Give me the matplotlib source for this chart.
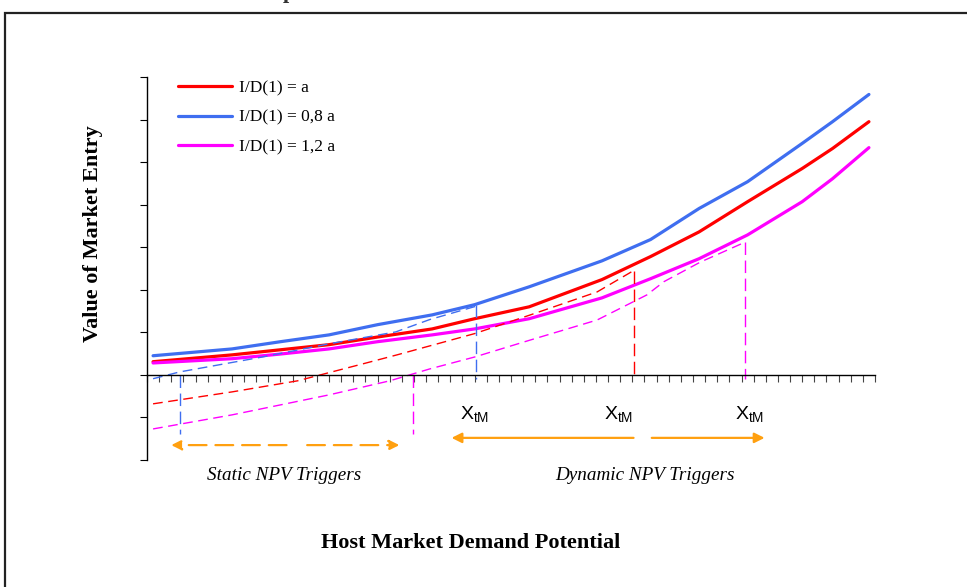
import matplotlib
matplotlib.use("Agg")
import matplotlib.pyplot as plt
from matplotlib.patches import Rectangle

plt.rcParams['font.family'] = ['Liberation Serif', 'DejaVu Serif']
plt.rcParams['mathtext.fontset'] = 'custom'
plt.rcParams['mathtext.rm'] = 'Liberation Sans'
plt.rcParams['mathtext.it'] = 'Liberation Sans'

# demand potential grid (category positions)
x = [0.5, 7, 11, 15, 19, 23.5, 27, 31.5, 37.5, 41.5, 45.5, 49.5, 54, 56.5, 59.5]
# value of market entry, dynamic (option) curves
val_a = [0.31, 0.47, 0.59, 0.71, 0.89, 1.08, 1.32, 1.60, 2.24, 2.78, 3.36, 4.07, 4.85, 5.32, 5.95]
val_08a = [0.45, 0.61, 0.78, 0.94, 1.18, 1.41, 1.65, 2.07, 2.68, 3.18, 3.91, 4.54, 5.44, 5.95, 6.59]
val_12a = [0.28, 0.38, 0.49, 0.61, 0.78, 0.94, 1.08, 1.32, 1.81, 2.26, 2.73, 3.29, 4.07, 4.61, 5.34]

# static NPV lines
npv_08a_x = [0.5, 2.7, 9.5, 15, 20.5, 23.3, 27.2]
npv_08a = [-0.09, 0.07, 0.42, 0.73, 1.01, 1.30, 1.62]
npv_a_x = [0.5, 7, 12.4, 17.8, 20.6, 27, 31.6, 37.1, 40.1]
npv_a = [-0.68, -0.40, -0.14, 0.26, 0.47, 0.97, 1.41, 1.95, 2.45]
npv_12a_x = [0.5, 7, 15, 20, 23.3, 27, 31.6, 37.1, 41.2, 42.6, 45.6, 49.3]
npv_12a = [-1.27, -0.94, -0.47, -0.14, 0.14, 0.42, 0.82, 1.29, 1.88, 2.19, 2.65, 3.12]

# triggers
static_trig_x = [2.7, 21.9]
static_trig_col = ['#3f6ef0', '#ff00ff']
dyn_trig_x = [27.1, 40.1, 49.3]
dyn_trig_top = [1.65, 2.45, 3.12]
dyn_trig_col = ['#3f6ef0', '#ff0000', '#ff00ff']
xtm_x = [25.8, 37.7, 48.5]

red = '#ff0000'
blue = '#3f6ef0'
mag = '#ff00ff'
orange = '#ffa010'

W, H = 967, 587
fig = plt.figure(figsize=(W / 100, H / 100), dpi=100)
ax = fig.add_axes([147 / W, 1 - 460 / H, 728 / W, 383 / H])

ax.plot(x, val_a, color=red, lw=2.3, label='I/D(1) = a', solid_capstyle='round')
ax.plot(x, val_08a, color=blue, lw=2.3, label='I/D(1) = 0,8 a', solid_capstyle='round')
ax.plot(x, val_12a, color=mag, lw=2.3, label='I/D(1) = 1,2 a', solid_capstyle='round')

dash = (7, 4)
ax.plot(npv_08a_x, npv_08a, color=blue, lw=1.0, dashes=dash)
ax.plot(npv_a_x, npv_a, color=red, lw=1.0, dashes=dash)
ax.plot(npv_12a_x, npv_12a, color=mag, lw=1.0, dashes=dash)

for xs, c in zip(static_trig_x, static_trig_col):
    ax.plot([xs, xs], [0, -1.4], color=c, lw=1.0, dashes=(9, 4))
for xs, top, c in zip(dyn_trig_x, dyn_trig_top, dyn_trig_col):
    ax.plot([xs, xs], [top, -0.1], color=c, lw=1.0, dashes=(9, 4))

for xs in xtm_x:
    ax.text(xs, -1.04, r'X$_{\mathrm{tM}}$', fontsize=14, ha='left', va='baseline',
            family='Liberation Sans')

# trigger range arrows
def arrow(x0, x1, y, dashed):
    ax.annotate('', xy=(x1, y), xytext=(x0, y),
                arrowprops=dict(arrowstyle='-|>,head_length=0.6,head_width=0.3',
                                color=orange, lw=1.6,
                                linestyle=(0, (8, 4)) if dashed else '-',
                                shrinkA=0, shrinkB=0))

arrow(11.5, 2.0, -1.65, True)
arrow(13.2, 20.8, -1.65, True)
arrow(40.1, 25.1, -1.48, False)
arrow(41.6, 50.9, -1.48, False)

ax.set_xlim(0, 60)
ax.set_ylim(-2, 7)
ax.set_xticks(range(0, 61))
ax.set_yticks(range(-2, 8))
ax.set_xticklabels([])
ax.set_yticklabels([])
ax.spines['top'].set_visible(False)
ax.spines['right'].set_visible(False)
ax.spines['bottom'].set_position(('data', 0))
ax.tick_params(axis='x', direction='out', length=5, width=0.8, color='#444444')
ax.tick_params(axis='y', direction='out', length=5, width=0.8)
for s in ['left', 'bottom']:
    ax.spines[s].set_linewidth(1.0)

leg = ax.legend(loc='upper left', bbox_to_anchor=(31 / 728, 1 - 3 / 383), frameon=False,
                fontsize=12.5, handlelength=3.1, handletextpad=0.4, labelspacing=0.78,
                borderpad=0, borderaxespad=0)

ax.set_ylabel('Value of Market Entry', fontsize=16, fontweight='bold')
ax.yaxis.set_label_coords(-44 / 728, (460 - 234) / 383)

fig.text(284 / W, 1 - 476 / H, 'Static NPV Triggers', style='italic', fontsize=13.8,
         ha='center', va='center')
fig.text(645 / W, 1 - 476 / H, 'Dynamic NPV Triggers', style='italic', fontsize=13.8,
         ha='center', va='center')
fig.text(471 / W, 1 - 543 / H, 'Host Market Demand Potential', fontweight='bold', fontsize=16,
         ha='center', va='center')
# title sits mostly above the picture, as in the source
fig.text(492 / W, 1 + 2 / H, 'Chart 4: Impact of Different Levels of the Scale of Investment Costs',
         fontweight='bold', fontsize=16, ha='center', va='baseline', color='#333333')

fig.patches.append(Rectangle((5 / W, -0.2), 1.2, 1.2 - 13 / H, transform=fig.transFigure,
                             fill=False, lw=1.6, edgecolor='#222222'))

fig.savefig('out.png', dpi=100)
